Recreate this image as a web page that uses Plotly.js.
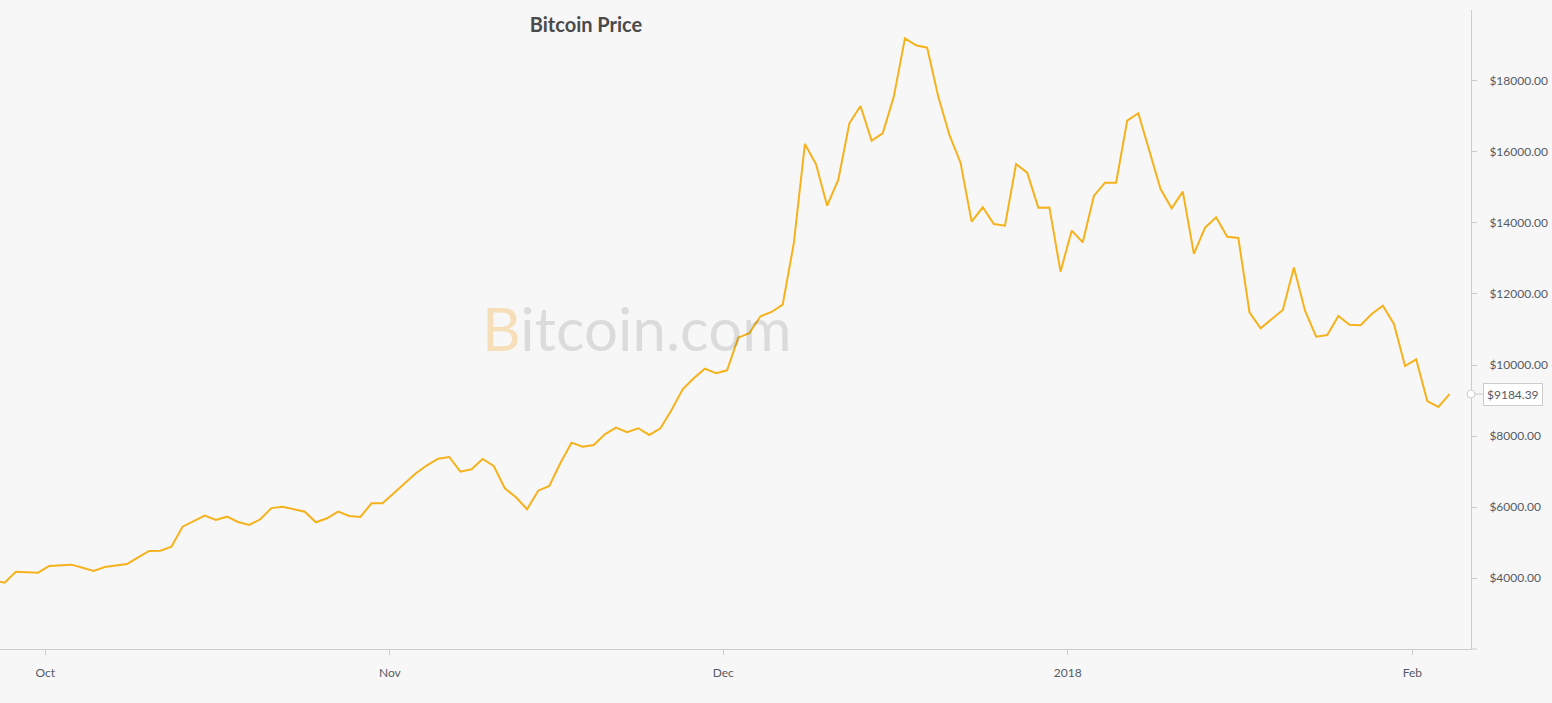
<!DOCTYPE html>
<html>
<head>
<meta charset="utf-8">
<script src="https://cdn.plot.ly/plotly-3.0.1.min.js"></script>
<style>
  html, body { margin: 0; padding: 0; background: #f7f7f7; }
  #chart { width: 1552px; height: 703px; }
</style>
</head>
<body>
<div id="chart"></div>
<script>
// Daily Bitcoin closing prices (USD), first point 2017-09-26
const startDate = '2017-09-26T08:20:00Z';
const prices = [
  3940, 3876, 4186, 4177, 4158, 4346, 4365, 4383, 4298, 4205,
  4318, 4355, 4402, 4591, 4768, 4777, 4889, 5452, 5612, 5761,
  5640, 5733, 5584, 5500, 5660, 5975, 6015, 5941, 5874, 5576,
  5688, 5874, 5753, 5725, 6110, 6110, 6391, 6681, 6954, 7179,
  7365, 7413, 7000, 7067, 7357, 7160, 6532, 6279, 5941, 6465,
  6597, 7245, 7816, 7703, 7751, 8052, 8238, 8108, 8221, 8032,
  8221, 8736, 9318, 9627, 9898, 9768, 9852, 10770, 10893, 11372,
  11493, 11700, 13426, 16220, 15649, 14484, 15207, 16802, 17290, 16313,
  16521, 17553, 19194, 18997, 18930, 17553, 16474, 15694, 14034, 14439,
  13969, 13921, 15657, 15413, 14429, 14435, 12627, 13781, 13454, 14757,
  15131, 15131, 16876, 17084, 16032, 14954, 14411, 14880, 13126, 13865,
  14157, 13611, 13575, 11485, 11034, 11290, 11549, 12745, 11530, 10798,
  10846, 11381, 11136, 11118, 11437, 11671, 11155, 9973, 10161, 8988,
  8820, 9184.39
];
const xTickVals = ['2017-10-01', '2017-11-01', '2017-12-01', '2018-01-01', '2018-02-01'];
const xTickText = ['Oct', 'Nov', 'Dec', '2018', 'Feb'];
const yTickVals = [4000, 6000, 8000, 10000, 12000, 14000, 16000, 18000];
const yTickText = yTickVals.map(v => '$' + v.toFixed(2));

const t0 = Date.parse(startDate);
const dates = prices.map((_, i) => {
  const d = new Date(t0 + i * 86400000);
  return d.toISOString().slice(0, 16).replace('T', ' ');
});
const last = prices[prices.length - 1];

const FONT = 'Lato, "Open Sans", sans-serif';
const LINEGRAY = '#cccccc';
const TEXTGRAY = '#555b66';

const trace = {
  type: 'scatter',
  mode: 'lines',
  x: dates,
  y: prices,
  line: { color: '#f6b21c', width: 2 },
  hoverinfo: 'x+y'
};

const layout = {
  width: 1552,
  height: 703,
  margin: { l: 0, r: 81, t: 10, b: 54 },
  paper_bgcolor: '#f7f7f7',
  plot_bgcolor: '#f7f7f7',
  showlegend: false,
  title: {
    text: 'Bitcoin Price',
    x: 586 / 1552, xref: 'container', xanchor: 'center',
    y: 1 - 25 / 703, yref: 'container', yanchor: 'middle',
    font: { family: FONT, size: 20, color: '#4a4a4a', weight: 700 }
  },
  xaxis: {
    type: 'date',
    range: ['2017-09-26 22:10', '2018-02-06 06:43'],
    tickvals: xTickVals,
    ticktext: xTickText,
    showgrid: false,
    zeroline: false,
    showline: true,
    linecolor: LINEGRAY,
    linewidth: 1,
    ticks: 'outside',
    ticklen: 5,
    tickcolor: LINEGRAY,
    ticklabelstandoff: 8,
    tickfont: { family: FONT, size: 12, color: TEXTGRAY }
  },
  yaxis: {
    side: 'right',
    range: [2010, 19990],
    tickvals: yTickVals,
    ticktext: yTickText,
    showgrid: false,
    zeroline: false,
    showline: true,
    linecolor: LINEGRAY,
    linewidth: 1,
    ticks: 'outside',
    ticklen: 5,
    tickcolor: LINEGRAY,
    ticklabelstandoff: 10,
    tickfont: { family: FONT, size: 12, color: TEXTGRAY }
  },
  annotations: [
    {
      text: '<span style="color:#f5aa28;fill-opacity:0.30">B</span>itcoin.com',
      xref: 'paper', yref: 'paper',
      x: 0.4327, y: 0.502,
      xanchor: 'center', yanchor: 'middle',
      showarrow: false,
      font: { family: FONT, size: 60, color: 'rgba(0,0,0,0.11)' }
    },
    {
      text: '$' + last.toFixed(2),
      xref: 'paper', yref: 'y',
      x: 1, y: last,
      xanchor: 'left', yanchor: 'middle',
      xshift: 12,
      showarrow: false,
      bgcolor: '#ffffff',
      bordercolor: LINEGRAY,
      borderwidth: 1,
      borderpad: 3,
      font: { family: FONT, size: 12, color: TEXTGRAY }
    }
  ],
  shapes: [
    {
      type: 'line',
      xref: 'paper', xsizemode: 'pixel', xanchor: 1, x0: 0, x1: 6,
      yref: 'paper', y0: 0, y1: 0,
      line: { color: LINEGRAY, width: 1 }
    },
    {
      type: 'line',
      xref: 'paper', xsizemode: 'pixel', xanchor: 1, x0: 4, x1: 12,
      yref: 'y', ysizemode: 'pixel', yanchor: last, y0: 0, y1: 0,
      line: { color: LINEGRAY, width: 1 }
    },
    {
      type: 'circle',
      xref: 'paper', xsizemode: 'pixel', xanchor: 1, x0: -4, x1: 4,
      yref: 'y', ysizemode: 'pixel', yanchor: last, y0: -4, y1: 4,
      fillcolor: '#ffffff',
      line: { color: LINEGRAY, width: 1 }
    }
  ]
};

Plotly.newPlot('chart', [trace], layout, { displayModeBar: false, responsive: false });
</script>
</body>
</html>
